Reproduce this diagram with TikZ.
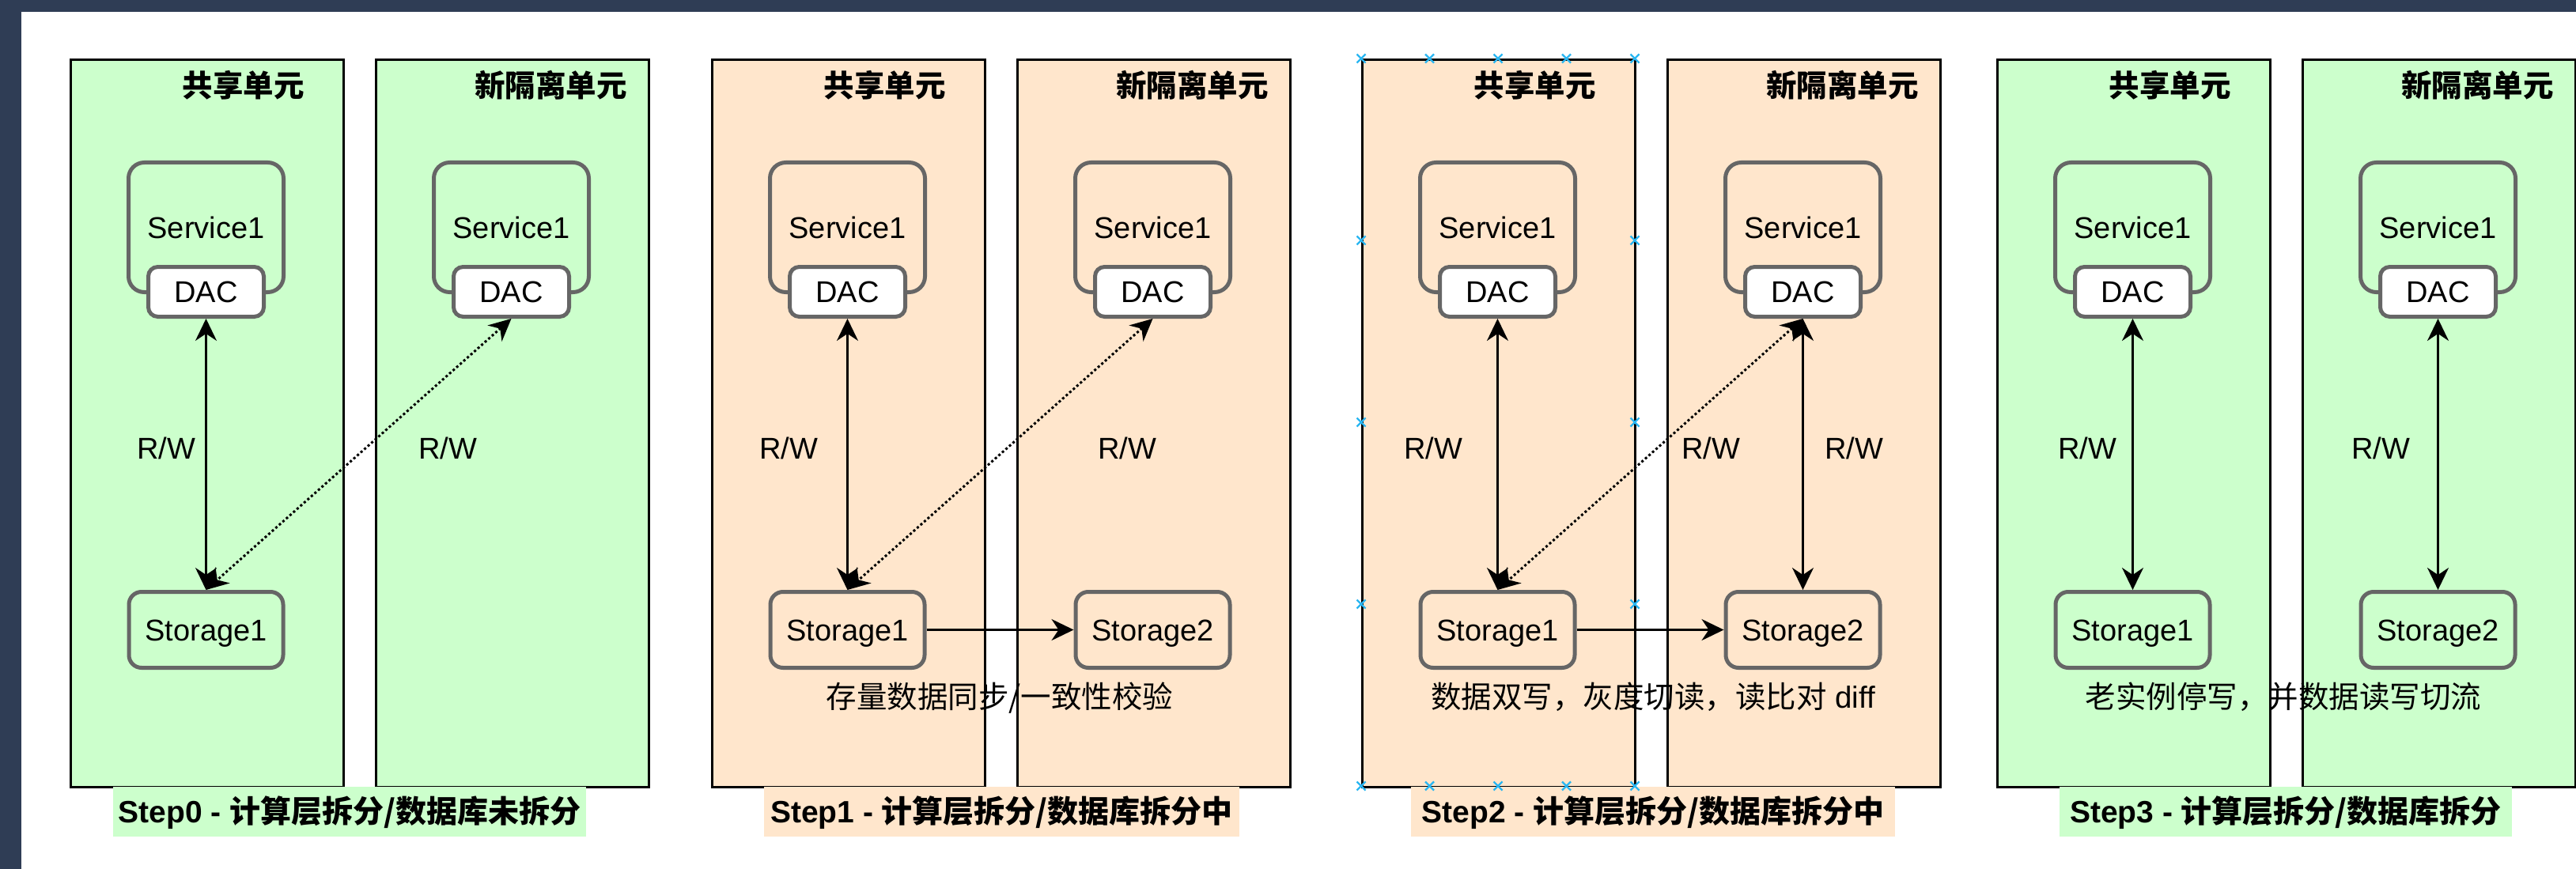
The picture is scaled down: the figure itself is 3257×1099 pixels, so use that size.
\documentclass[tikz,border=0pt]{standalone}
\usepackage{fontspec}
\setmainfont{Liberation Sans}
\newfontfamily\cjk{Noto Sans CJK SC}
\newfontfamily\latn{Liberation Sans}
\usetikzlibrary{arrows.meta}

\definecolor{framebar}{RGB}{47,61,85}
\definecolor{mint}{RGB}{204,255,204}
\definecolor{peach}{RGB}{255,230,204}
\definecolor{edgegray}{RGB}{102,102,102}
\definecolor{handle}{RGB}{41,182,242}

\tikzset{dtip/.tip={Stealth[length=28pt,width=27pt,inset=9pt]}}

\begin{document}
\begin{tikzpicture}[x=1pt,y=-1pt,
  lat/.style={font=\fontsize{38}{42}\selectfont, text height=27.4pt, text depth=0pt, inner sep=0pt},
  zh/.style={font=\fontsize{38.5}{44}\selectfont\cjk, text height=32.3pt, text depth=3.9pt, inner sep=0pt},
  zhb/.style={font=\fontsize{38.5}{44}\selectfont\cjk\bfseries, text height=32.3pt, text depth=3.9pt, inner sep=0pt},
  cell/.style={draw=black, line width=3pt, minimum width=345pt, minimum height=920pt, anchor=north west, inner sep=0pt},
  svc/.style={lat, draw=edgegray, line width=5pt, rounded corners=20pt, minimum width=196pt, minimum height=164pt},
  dac/.style={lat, draw=edgegray, fill=white, line width=5pt, rounded corners=12pt, minimum width=146pt, minimum height=63pt},
  store/.style={lat, draw=edgegray, line width=5pt, rounded corners=16pt, minimum width=195pt, minimum height=96pt},
  caption/.style={font=\fontsize{39}{44}\selectfont\bfseries, text height=32.8pt, text depth=3.9pt, inner sep=0pt, minimum height=63pt},
  rw/.style={line width=2.6pt, arrows={dtip-dtip}},
  flow/.style={line width=2.6pt, arrows={-dtip}},
  sync/.style={line width=3pt, dash pattern=on 3pt off 3pt, arrows={dtip-dtip}},
  handlemark/.style={draw=handle, line width=2.2pt}
]
\useasboundingbox (0,0) rectangle (3257,1099);
\fill[white] (0,0) rectangle (3257,1099);
\fill[framebar] (0,0) rectangle (3257,15);
\fill[framebar] (0,0) rectangle (27,1099);

% ---------- cells ----------
\node[cell, fill=mint]  (c0l) at (88,74) {};
\node[cell, fill=mint]  (c0r) at (474,74) {};
\node[cell, fill=peach] (c1l) at (899,74) {};
\node[cell, fill=peach] (c1r) at (1285,74) {};
\node[cell, fill=peach] (c2l) at (1721,74) {};
\node[cell, fill=peach] (c2r) at (2107,74) {};
\node[cell, fill=mint]  (c3l) at (2524,74) {};
\node[cell, fill=mint]  (c3r) at (2910,74) {};

% ---------- cell titles ----------
\node[zhb, anchor=east] (t0l) at (385,108) {共享单元};
\node[zhb, anchor=east] (t0r) at (793,108) {新隔离单元};
\node[zhb, anchor=east] (t1l) at (1196,108) {共享单元};
\node[zhb, anchor=east] (t1r) at (1604,108) {新隔离单元};
\node[zhb, anchor=east] (t2l) at (2018,108) {共享单元};
\node[zhb, anchor=east] (t2r) at (2426,108) {新隔离单元};
\node[zhb, anchor=east] (t3l) at (2821,108) {共享单元};
\node[zhb, anchor=east] (t3r) at (3229,108) {新隔离单元};

% ---------- services with their DAC ----------
\foreach \n/\cx in {0l/260.5,0r/646.5,1l/1071.5,1r/1457.5,2l/1893.5,2r/2279.5,3l/2696.5,3r/3082.5}{
  \node[svc] (s\n) at (\cx,287.5) {Service1};
  \node[dac] (d\n) at (\cx,369) {DAC};
}

% ---------- storages ----------
\node[store] (st0l) at (260.5,796.5) {Storage1};
\node[store] (st1l) at (1071.5,796.5) {Storage1};
\node[store] (st1r) at (1457.5,796.5) {Storage2};
\node[store] (st2l) at (1893.5,796.5) {Storage1};
\node[store] (st2r) at (2279.5,796.5) {Storage2};
\node[store] (st3l) at (2696.5,796.5) {Storage1};
\node[store] (st3r) at (3082.5,796.5) {Storage2};

% ---------- R/W labels ----------
\node[lat] (rw0l) at (210,567) {R/W};
\node[lat] (rw0r) at (566,567) {R/W};
\node[lat] (rw1l) at (997,567) {R/W};
\node[lat] (rw1r) at (1425,567) {R/W};
\node[lat] (rw2l) at (1812,567) {R/W};
\node[lat] (rw2a) at (2163,567) {R/W};
\node[lat] (rw2b) at (2344,567) {R/W};
\node[lat] (rw3l) at (2639,567) {R/W};
\node[lat] (rw3r) at (3010,567) {R/W};

% ---------- connectors ----------
\draw[rw] (d0l.south) -- (st0l.north);
\draw[sync] (d0r.south) -- (st0l.north);

\draw[rw] (d1l.south) -- (st1l.north);
\draw[sync] (d1r.south) -- (st1l.north);
\draw[flow] (st1l.east) -- (st1r.west);

\draw[rw] (d2l.south) -- (st2l.north);
\draw[sync] (d2r.south) -- (st2l.north);
\draw[rw] (d2r.south) -- (st2r.north);
\draw[flow] (st2l.east) -- (st2r.west);

\draw[rw] (d3l.south) -- (st3l.north);
\draw[rw] (d3r.south) -- (st3r.north);

% ---------- notes under the storages ----------
\node[zh] (n1) at (1264,881) {存量数据同步/一致性校验};
\node[zh] (n2) at (2090,881) {数据双写，灰度切读，读比对{\latn\ diff}};
\node[zh] (n3) at (2887,881) {老实例停写，并数据读写切流};

% ---------- step captions ----------
\node[caption, fill=mint,  minimum width=598pt] (cap0) at (442,1026.5) {Step0 - {\cjk 计算层拆分/数据库未拆分}};
\node[caption, fill=peach, minimum width=601pt] (cap1) at (1266.5,1026.5) {Step1 - {\cjk 计算层拆分/数据库拆分中}};
\node[caption, fill=peach, minimum width=612pt] (cap2) at (2090,1026.5) {Step2 - {\cjk 计算层拆分/数据库拆分中}};
\node[caption, fill=mint,  minimum width=572pt] (cap3) at (2890,1026.5) {Step3 - {\cjk 计算层拆分/数据库拆分}};

% ---------- connection handles on the selected cell ----------
\foreach \hx in {1721,1807.5,1894,1980.5,2067}{
  \foreach \hy in {74,994}{
    \draw[handlemark] (\hx-5.5,\hy-5.5) -- ++(11,11) (\hx-5.5,\hy+5.5) -- ++(11,-11);
  }
}
\foreach \hx in {1721,2067}{
  \foreach \hy in {304,534,764}{
    \draw[handlemark] (\hx-5.5,\hy-5.5) -- ++(11,11) (\hx-5.5,\hy+5.5) -- ++(11,-11);
  }
}
\end{tikzpicture}
\end{document}
